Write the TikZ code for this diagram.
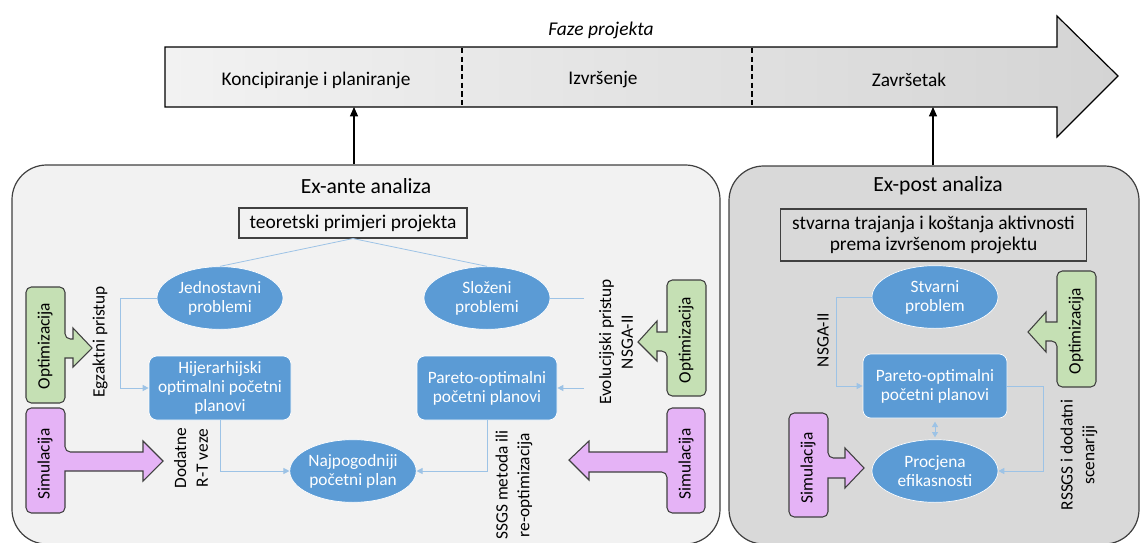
\documentclass[tikz,border=0pt]{standalone}
\usepackage{fontspec}
\setmainfont{Carlito}
\usetikzlibrary{shapes.geometric,arrows.meta}
\definecolor{exantebg}{HTML}{F2F2F2}
\definecolor{expostbg}{HTML}{D9D9D9}
\definecolor{framegray}{HTML}{404040}
\definecolor{nodeblue}{HTML}{5B9BD5}
\definecolor{connblue}{HTML}{9DC3E6}
\definecolor{optgreen}{HTML}{C5E0B4}
\definecolor{simpink}{HTML}{E5B3F6}
\definecolor{barleft}{HTML}{F2F2F2}
\definecolor{barright}{HTML}{D4D4D4}
\begin{document}
\begin{tikzpicture}[x=0.75pt,y=-0.75pt,
  bigframe/.style={draw=framegray, line width=0.9pt, rounded corners=26pt, inner sep=0pt},
  titletext/.style={font=\fontsize{16.2}{19}\selectfont},
  srcbox/.style={draw=framegray, line width=0.8pt, align=center, inner sep=0pt, font=\fontsize{14.6}{16.3}\selectfont},
  blueell/.style={ellipse, fill=nodeblue, draw=white, line width=0.5pt, text=white, align=center, inner sep=0pt,
    minimum width=94.5pt, minimum height=47pt, font=\fontsize{13}{14.3}\selectfont},
  bluebox/.style={rectangle, rounded corners=6pt, fill=nodeblue, draw=white, line width=0.5pt, text=white, align=center,
    inner sep=0pt, minimum width=106.5pt, minimum height=48pt, font=\fontsize{13}{14.3}\selectfont},
  conn/.style={draw=connblue, line width=0.75pt, -{Triangle[length=4.5pt,width=4.5pt]}},
  connplain/.style={draw=connblue, line width=0.6pt},
  rotlabel/.style={rotate=90, align=center, inner sep=1pt, font=\fontsize{13}{16.3}\selectfont},
  callout/.style={draw=framegray, line width=0.8pt},
  callouttext/.style={rotate=90, inner sep=0pt, font=\fontsize{13}{15}\selectfont},
  phasetext/.style={font=\fontsize{14.5}{17}\selectfont},
  uparrow/.style={draw=black, line width=0.9pt, -{Triangle[length=7pt,width=6pt]}}
]
\useasboundingbox (0,0) rectangle (1140,543);

% ---------- phase arrow ----------
\shade[left color=barleft, right color=barright, draw=black, line width=0.9pt]
  (165,47) -- (1057,47) -- (1057,16) -- (1118,76) -- (1057,137) -- (1057,107) -- (165,107) -- cycle;
\draw[black, line width=0.8pt, dash pattern=on 4pt off 2.5pt] (462,48) -- (462,106);
\draw[black, line width=0.8pt, dash pattern=on 4pt off 2.5pt] (752,48) -- (752,106);
\node[font=\fontsize{14.6}{17}\selectfont\itshape] (faze) at (601,30) {Faze projekta};
\node[phasetext] (ph1) at (316,80) {Koncipiranje i planiranje};
\node[phasetext] (ph2) at (603,80) {Izvršenje};
\node[phasetext] (ph3) at (909,80) {Završetak};
\coordinate (bar1) at (354,107);
\coordinate (bar3) at (933,107);

% ---------- frames ----------
\node[bigframe, fill=exantebg, minimum width=531pt, minimum height=284.25pt] (exante) at (366,354.5) {};
\node[bigframe, fill=expostbg, minimum width=307.5pt, minimum height=283.5pt] (expost) at (934,355) {};
\draw[uparrow] (exante.north -| bar1) -- (bar1);
\draw[uparrow] (expost.north -| bar3) -- (bar3);

\node[titletext] (t1) at (366,186) {Ex-ante analiza};
\node[titletext] (t2) at (938,186) {Ex-post analiza};

% ---------- ex-ante content ----------
\node[srcbox, minimum width=171pt, minimum height=22.5pt] (teo) at (353,223) {teoretski primjeri projekta};
\node[blueell] (jed) at (220,298) {Jednostavni\\problemi};
\node[blueell] (slo) at (487,298) {Složeni\\problemi};
\node[bluebox] (hij) at (220,388) {Hijerarhijski\\optimalni početni\\planovi};
\node[bluebox, minimum width=105pt] (par1) at (487,388) {Pareto-optimalni\\početni planovi};
\node[blueell] (naj) at (353,471) {Najpogodniji\\početni plan};

\draw[connplain] (teo.south) -- (jed.north);
\draw[connplain] (teo.south) -- (slo.north);
\draw[conn] (jed.west) -- ++(-36,0) |- (hij.west);
\draw[conn] (hij.south) |- (naj.west);
\draw[conn] (slo.east) -- ++(36,0) |- (par1.east);
\draw[conn] (par1.south) |- (naj.east);

\node[rotlabel, fill=exantebg] (lab1) at (100,342) {Egzaktni pristup};
\node[rotlabel] (lab2) at (191,458) {Dodatne\\R-T veze};
\node[rotlabel, fill=exantebg, inner ysep=11pt, inner xsep=2pt] (lab3) at (616,342) {Evolucijski pristup\\NSGA-II};
\node[rotlabel] (lab4) at (514,485) {SSGS metoda ili\\re-optimizacija};

% callouts ex-ante
\draw[callout, fill=optgreen, rounded corners=4pt]
  (45,287) -- (65,287) -- (65,339) [sharp corners] -- (73,339) -- (73,328) -- (92,348) -- (73,367) -- (73,358) -- (65,358)
  [rounded corners=4pt] -- (65,403) -- (26,403) -- (26,287) -- cycle;
\node[callouttext] (opt1) at (45,346) {Optimizacija};
\draw[callout, fill=simpink, rounded corners=4pt]
  (45,408) -- (65,408) -- (65,452) [sharp corners] -- (143,452) -- (143,441) -- (163,461) -- (143,481) -- (143,471) -- (65,471)
  [rounded corners=4pt] -- (65,513) -- (26,513) -- (26,408) -- cycle;
\node[callouttext] (sim1) at (45,464) {Simulacija};
\draw[callout, fill=optgreen, rounded corners=4pt]
  (686,280) -- (706,280) -- (706,396) -- (667,396) -- (667,351) [sharp corners] -- (657,351) -- (657,361) -- (638,342) -- (657,321) -- (657,332) -- (667,332)
  [rounded corners=4pt] -- (667,280) -- cycle;
\node[callouttext] (opt2) at (686,340) {Optimizacija};
\draw[callout, fill=simpink, rounded corners=4pt]
  (686,408) -- (705,408) -- (705,513) -- (667,513) -- (667,472) [sharp corners] -- (589,472) -- (589,480) -- (569,460) -- (589,441) -- (589,452) -- (667,452)
  [rounded corners=4pt] -- (667,408) -- cycle;
\node[callouttext] (sim2) at (686,464) {Simulacija};

% ---------- ex-post content ----------
\node[srcbox, minimum width=229pt, minimum height=39pt] (stv) at (933.5,235) {stvarna trajanja i koštanja aktivnosti\\prema izvršenom projektu};
\node[blueell] (stp) at (935,297) {Stvarni\\problem};
\node[bluebox, minimum width=108pt] (par2) at (935,386) {Pareto-optimalni\\početni planovi};
\node[blueell] (pro) at (935,471) {Procjena\\efikasnosti};

\draw[conn] (stp.west) -- ++(-35,0) |- (par2.west);
\draw[conn] (par2.east) -- ++(36,0) |- (pro.east);
\draw[draw=connblue, line width=0.75pt, {Triangle[length=4pt,width=4.5pt]}-{Triangle[length=4pt,width=4.5pt]}, shorten <=2.5pt, shorten >=1.5pt] (par2.south) -- (pro.north);

\node[rotlabel] (lab5) at (823,340) {NSGA-II};
\node[rotlabel] (lab6) at (1079,455) {RSSGS i dodatni\\scenariji};

\draw[callout, fill=optgreen, rounded corners=4pt]
  (1076,271) -- (1096,271) -- (1096,387) -- (1057,387) -- (1057,341) [sharp corners] -- (1046,341) -- (1046,352) -- (1028,332) -- (1046,312) -- (1046,322) -- (1057,322)
  [rounded corners=4pt] -- (1057,271) -- cycle;
\node[callouttext] (opt3) at (1076,331) {Optimizacija};
\draw[callout, fill=simpink, rounded corners=4pt]
  (808,413) -- (828,413) -- (828,458) [sharp corners] -- (845,458) -- (845,448) -- (864,468) -- (845,488) -- (845,478) -- (828,478)
  [rounded corners=4pt] -- (828,517) -- (789,517) -- (789,413) -- cycle;
\node[callouttext] (sim3) at (808,468) {Simulacija};
\end{tikzpicture}
\end{document}
